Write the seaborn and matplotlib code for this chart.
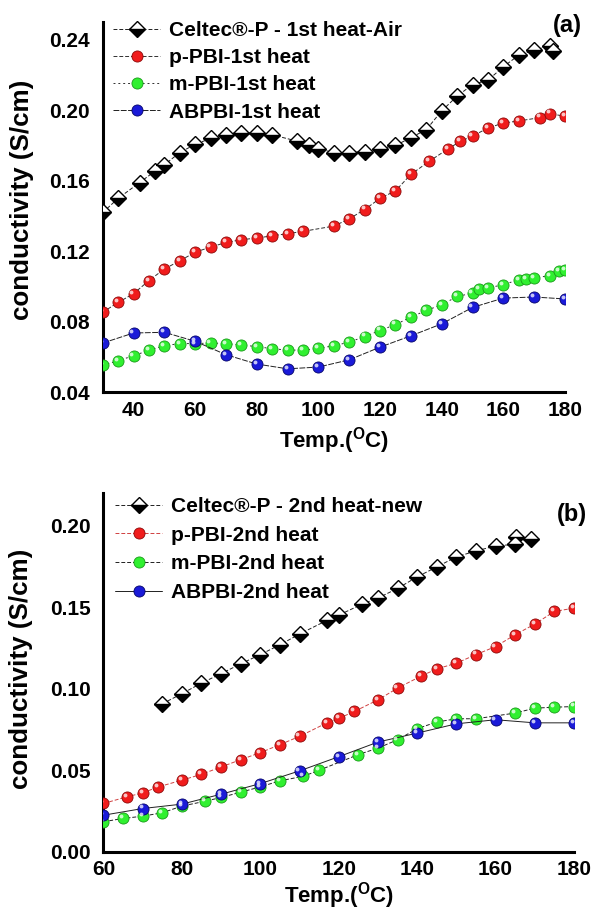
import matplotlib
matplotlib.use("Agg")
import matplotlib.pyplot as plt
import seaborn as sns
from matplotlib.ticker import MultipleLocator, FormatStrFormatter
from matplotlib.transforms import ScaledTranslation

# ---------------- data: panel (a), first heating ----------------
celtec1_T = [30, 35, 42, 47, 50, 55, 60, 65, 70, 75, 80, 85, 93, 97, 100, 105, 110,
             115, 120, 125, 130, 135, 140, 145, 150, 155, 160, 165, 170, 175, 176]
celtec1_v = [0.142, 0.150, 0.159, 0.1655, 0.169, 0.176, 0.1806, 0.184, 0.186, 0.187,
             0.187, 0.186, 0.1825, 0.180, 0.178, 0.176, 0.176, 0.1765, 0.178, 0.180,
             0.1844, 0.189, 0.1996, 0.208, 0.2145, 0.217, 0.2246, 0.2312, 0.234,
             0.2365, 0.2336]

ppbi1_T = [30, 35, 40, 45, 50, 55, 60, 65, 70, 75, 80, 85, 90, 95, 105, 110, 115, 120,
           125, 130, 136, 142, 146, 150, 155, 160, 165, 172, 175, 180]
ppbi1_v = [0.0855, 0.091, 0.096, 0.1034, 0.110, 0.1146, 0.1195, 0.1224, 0.125, 0.1266,
           0.1275, 0.1288, 0.130, 0.1313, 0.1343, 0.1384, 0.1437, 0.150, 0.1543, 0.1636,
           0.1711, 0.178, 0.1823, 0.1853, 0.1899, 0.1927, 0.1939, 0.1958, 0.1981, 0.1965]

mpbi1_T = [30, 35, 40, 45, 50, 55, 60, 65, 70, 75, 80, 85, 90, 95, 100, 105, 110, 115,
           120, 125, 130, 135, 140, 145, 150, 152, 155, 160, 165, 167.5, 170, 175, 178, 180]
mpbi1_v = [0.0553, 0.058, 0.0608, 0.0639, 0.0665, 0.0677, 0.0677, 0.068, 0.0677, 0.0669,
           0.066, 0.0648, 0.064, 0.064, 0.065, 0.0665, 0.0685, 0.0717, 0.0751, 0.0785,
           0.0827, 0.0865, 0.0897, 0.0944, 0.0963, 0.0986, 0.0992, 0.1011, 0.1039,
           0.1043, 0.1049, 0.1062, 0.1086, 0.1092]

abpbi1_T = [30, 40, 50, 60, 70, 80, 90, 100, 110, 120, 130, 140, 150, 160, 170, 180]
abpbi1_v = [0.068, 0.0737, 0.0741, 0.069, 0.0614, 0.0561, 0.0534, 0.0544, 0.0585,
            0.0657, 0.0721, 0.0789, 0.0882, 0.0935, 0.0941, 0.093]

# ---------------- data: panel (b), second heating ----------------
celtec2_T = [75, 80, 85, 90, 95, 100, 105, 110, 117, 120, 126, 130, 135, 140, 145, 150,
             155, 160, 165, 165.3, 169]
celtec2_v = [0.0908, 0.097, 0.1035, 0.1093, 0.1153, 0.121, 0.127, 0.1336, 0.142, 0.1452,
             0.152, 0.1557, 0.1616, 0.1687, 0.1748, 0.181, 0.1846, 0.1877, 0.1887,
             0.1934, 0.1918]

ppbi2_T = [60, 66, 70, 74, 80, 85, 90, 95, 100, 105, 110, 117, 120, 124, 130, 135, 141,
           145, 150, 155, 160, 165, 170, 175, 180]
ppbi2_v = [0.0296, 0.0337, 0.0361, 0.0398, 0.0439, 0.0475, 0.052, 0.0565, 0.0608, 0.0657,
           0.0708, 0.0791, 0.0818, 0.0861, 0.0932, 0.1004, 0.1078, 0.1122, 0.1157, 0.121,
           0.1259, 0.1332, 0.1397, 0.1475, 0.1495]

mpbi2_T = [60, 65, 70, 75, 80, 86, 90, 95, 100, 105, 111, 115, 125, 130, 135, 140, 145,
           150, 155, 165, 170, 175, 180]
mpbi2_v = [0.0184, 0.0204, 0.0218, 0.0239, 0.028, 0.031, 0.0333, 0.0365, 0.0398, 0.0435,
           0.0463, 0.05, 0.0596, 0.0636, 0.0687, 0.0755, 0.0796, 0.0816, 0.0816, 0.0851,
           0.0881, 0.0887, 0.0891]

abpbi2_T = [60, 70, 80, 90, 100, 110, 120, 130, 140, 150, 160, 170, 180]
abpbi2_v = [0.0224, 0.0265, 0.0292, 0.0353, 0.0418, 0.0496, 0.0583, 0.0673, 0.0728,
            0.0785, 0.081, 0.0791, 0.0791]

labels_a = ["Celtec®-P - 1st heat-Air", "p-PBI-1st heat", "m-PBI-1st heat", "ABPBI-1st heat"]
labels_b = ["Celtec®-P - 2nd heat-new", "p-PBI-2nd heat", "m-PBI-2nd heat", "ABPBI-2nd heat"]

# ---------------- styling ----------------
sns.set_theme(style="white")
plt.rcParams["font.family"] = ["Liberation Sans", "DejaVu Sans"]
plt.rcParams["font.weight"] = "bold"
plt.rcParams["axes.labelweight"] = "bold"
plt.rcParams["text.color"] = "black"
plt.rcParams["axes.labelcolor"] = "black"
plt.rcParams["xtick.color"] = "black"
plt.rcParams["ytick.color"] = "black"
plt.rcParams["mathtext.fontset"] = "custom"
plt.rcParams["mathtext.rm"] = "Liberation Sans:bold"
plt.rcParams["mathtext.bf"] = "Liberation Sans:bold"

SPHERES = {
    "red": ("#f01c1c", "#8c0a0a"),
    "green": ("#30f030", "#1a9a1a"),
    "blue": ("#1a1ad8", "#06066a"),
}

fig = plt.figure(figsize=(5.93, 9.11), dpi=100)
ax_a = fig.add_axes([0.1732, 0.5692, 0.7796, 0.4067])
ax_b = fig.add_axes([0.1745, 0.0651, 0.7934, 0.3934])

highlight_shift = ScaledTranslation(-1.5 / 72, 1.5 / 72, fig.dpi_scale_trans)


def diamond_series(ax, T, v, label):
    sns.lineplot(x=T, y=v, ax=ax, sort=False, estimator=None, color="#202020",
                 linestyle=(0, (4, 2)), linewidth=0.7, marker="D", markersize=7.7,
                 fillstyle="bottom", markerfacecolor="black", markerfacecoloralt="white",
                 markeredgecolor="black", markeredgewidth=1.0, label=label, zorder=3)


def sphere_series(ax, T, v, label, colour, line_colour, ls):
    face, edge = SPHERES[colour]
    sns.lineplot(x=T, y=v, ax=ax, sort=False, estimator=None, color=line_colour,
                 linestyle=ls, linewidth=0.7, marker="o", markersize=8,
                 markerfacecolor=face, markeredgecolor=edge, markeredgewidth=0.6,
                 label=label, zorder=3)
    # glossy highlight on each sphere
    sns.lineplot(x=T, y=v, ax=ax, sort=False, estimator=None, linestyle="none",
                 marker="o", markersize=2.8, markerfacecolor="white", markeredgewidth=0,
                 alpha=0.75, transform=ax.transData + highlight_shift, zorder=4,
                 label="_nolegend_")


# panel (a)
diamond_series(ax_a, celtec1_T, celtec1_v, labels_a[0])
sphere_series(ax_a, ppbi1_T, ppbi1_v, labels_a[1], "red", "#303030", (0, (4, 2)))
sphere_series(ax_a, mpbi1_T, mpbi1_v, labels_a[2], "green", "#303030", (0, (2, 3)))
sphere_series(ax_a, abpbi1_T, abpbi1_v, labels_a[3], "blue", "#202020", (0, (6, 1.5)))

# panel (b)
diamond_series(ax_b, celtec2_T, celtec2_v, labels_b[0])
sphere_series(ax_b, ppbi2_T, ppbi2_v, labels_b[1], "red", "#d04040", (0, (4, 2)))
sphere_series(ax_b, mpbi2_T, mpbi2_v, labels_b[2], "green", "#202020", (0, (4, 2)))
sphere_series(ax_b, abpbi2_T, abpbi2_v, labels_b[3], "blue", "#202020", "-")

ax_a.set_xlim(30, 180)
ax_a.set_ylim(0.04, 0.25)
ax_a.xaxis.set_major_locator(MultipleLocator(20))
ax_a.xaxis.set_minor_locator(MultipleLocator(10))
ax_a.yaxis.set_major_locator(MultipleLocator(0.04))
ax_a.yaxis.set_minor_locator(MultipleLocator(0.02))

ax_b.set_xlim(60, 180)
ax_b.set_ylim(0.0, 0.22)
ax_b.xaxis.set_major_locator(MultipleLocator(20))
ax_b.xaxis.set_minor_locator(MultipleLocator(10))
ax_b.yaxis.set_major_locator(MultipleLocator(0.05))
ax_b.yaxis.set_minor_locator(MultipleLocator(0.025))

panel_layout = (
    # axes, labels, ylabel y, legend x, legend y, row spacing, xlabel pad
    (ax_a, labels_a, 0.52, 0.022, 1.002, 0.39, 4),
    (ax_b, labels_b, 0.51, 0.024, 0.99, 0.47, 1),
)
for ax, labels, lab_y, leg_x, leg_y, spacing, xpad in panel_layout:
    ax.yaxis.set_major_formatter(FormatStrFormatter("%.2f"))
    for side in ("top", "right"):
        ax.spines[side].set_visible(False)
    for side in ("left", "bottom"):
        ax.spines[side].set_linewidth(2.2)
        ax.spines[side].set_color("black")
    ax.tick_params(axis="x", which="major", direction="in", length=7, width=2,
                   labelsize=15, pad=6)
    ax.tick_params(axis="x", which="minor", direction="in", length=4, width=1.6)
    ax.tick_params(axis="y", which="major", direction="out", length=7, width=2,
                   labelsize=15, pad=2)
    ax.tick_params(axis="y", which="minor", direction="out", length=4, width=1.6)
    ax.set_xlabel(r"Temp.($^{\mathrm{O}}$C)", fontsize=16, fontweight="bold",
                  labelpad=xpad)
    ax.set_ylabel("conductivity (S/cm)", fontsize=18.7, fontweight="bold")
    ax.yaxis.set_label_coords(-0.149, lab_y)
    handles, labs = ax.get_legend_handles_labels()
    keep = [(h, l) for h, l in zip(handles, labs) if l in labels]
    ax.legend([h for h, _ in keep], [l for _, l in keep], loc="upper left",
              bbox_to_anchor=(leg_x, leg_y), frameon=False,
              handlelength=2.28, handletextpad=0.4, labelspacing=spacing,
              borderpad=0, borderaxespad=0, numpoints=1,
              prop={"weight": "bold", "size": 15})
    ax.grid(False)

fig.text(0.982, 0.985, "(a)", ha="right", va="top", fontsize=17, fontweight="bold")
fig.text(0.99, 0.448, "(b)", ha="right", va="top", fontsize=17, fontweight="bold")

fig.savefig("out.png", dpi=100)
